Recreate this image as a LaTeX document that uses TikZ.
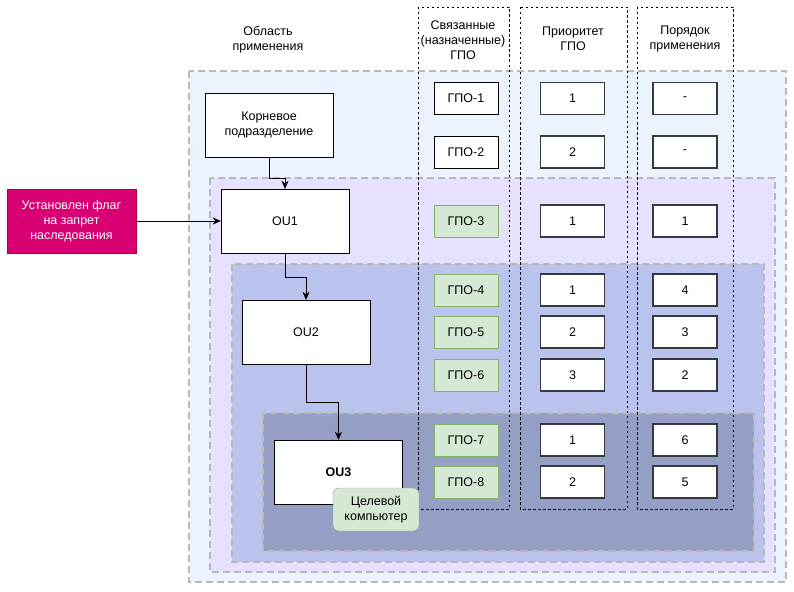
\documentclass[tikz,border=0pt]{standalone}
\usepackage{fontspec}
\setmainfont{Liberation Sans}
\usetikzlibrary{positioning,arrows.meta}
\definecolor{areaA}{HTML}{EBF4FE}
\definecolor{areaB}{HTML}{E5E1FE}
\definecolor{areaC}{HTML}{BAC3EE}
\definecolor{areaD}{HTML}{959EC4}
\definecolor{flagred}{HTML}{D80073}
\definecolor{flagborder}{HTML}{A50040}
\definecolor{gpogreen}{HTML}{D5E8D4}
\definecolor{gpoborder}{HTML}{82B366}
\definecolor{valborder}{HTML}{36393D}
\tikzset{
  area/.style={draw=gray!55, line width=1.5pt, dash pattern=on 7pt off 4pt},
  column/.style={draw=black, line width=0.8pt, dash pattern=on 2.5pt off 2.5pt},
  unit/.style={draw=black, fill=white, minimum width=128pt, minimum height=64pt, inner sep=0pt, align=center},
  gpo/.style={draw=gpoborder, fill=gpogreen, minimum width=64pt, minimum height=32pt, inner sep=0pt},
  gpoplain/.style={draw=black, fill=white, minimum width=64pt, minimum height=32pt, inner sep=0pt},
  val/.style={draw=valborder, fill=white, line width=1.3pt, minimum width=64pt, minimum height=32pt, inner sep=0pt},
  head/.style={align=center},
  link/.style={->, >={Stealth[length=8pt, width=7pt, inset=2.5pt]}},
}
\begin{document}
\begin{tikzpicture}[x=1pt, y=-1pt, font=\fontsize{12.5}{15}\selectfont]
\useasboundingbox (0,0) rectangle (794,591);

% Nested scopes of application
\draw [area, fill=areaA] (189,71) rectangle (786,582);
\draw [area, fill=areaB] (210,178) rectangle (775,572);
\draw [area, fill=areaC] (232,264) rectangle (764,562);
\draw [area, fill=areaD] (263,413) rectangle (754,551);

% Columns
\draw [column] (418,7) rectangle (509,509);
\draw [column] (520,7) rectangle (627,509);
\draw [column] (637,7) rectangle (733,509);

\node [head] (hscope) at (268,40) {Область\\применения};
\node [head] (hlinked) at (463,40) {Связанные\\(назначенные)\\ГПО};
\node [head] (hprio) at (573,39) {Приоритет\\ГПО};
\node [head] (horder) at (685,39) {Порядок\\применения};

% Organizational units
\node [unit] (root) at (269,125) {Корневое\\подразделение};
\node [unit] (ou1) at (285,221) {OU1};
\node [unit] (ou2) at (306,332) {OU2};
\node [unit] (ou3) at (338.5,472) {\bfseries OU3};

\node [draw=flagborder, fill=flagred, text=white, minimum width=129pt, minimum height=64pt, inner sep=0pt, align=center] (flag) at (71.5,221) {Установлен флаг\\на запрет\\наследования};

\node [gpo, rounded corners=6pt, minimum width=86pt, minimum height=43pt, align=center] (target) at (376,509.5) {Целевой\\компьютер};

% GPO, priority, order
\node [gpoplain] (g1) at (466,98.5) {ГПО-1};
\node [gpoplain] (g2) at (466,152) {ГПО-2};
\node [gpo] (g3) at (466,221) {ГПО-3};
\node [gpo] (g4) at (466,290) {ГПО-4};
\node [gpo] (g5) at (466,332) {ГПО-5};
\node [gpo] (g6) at (466,375) {ГПО-6};
\node [gpo] (g7) at (466,440) {ГПО-7};
\node [gpo] (g8) at (466,482) {ГПО-8};

\node [val] (p1) at (572.5,98.5) {1};
\node [val] (p2) at (572.5,152) {2};
\node [val] (p3) at (572.5,221) {1};
\node [val] (p4) at (572.5,290) {1};
\node [val] (p5) at (572.5,332) {2};
\node [val] (p6) at (572.5,375) {3};
\node [val] (p7) at (572.5,440) {1};
\node [val] (p8) at (572.5,482) {2};

\node [val] (o1) at (685,98.5) {-};
\node [val] (o2) at (685,152) {-};
\node [val] (o3) at (685,221) {1};
\node [val] (o4) at (685,290) {4};
\node [val] (o5) at (685,332) {3};
\node [val] (o6) at (685,375) {2};
\node [val] (o7) at (685,440) {6};
\node [val] (o8) at (685,482) {5};

% Inheritance links
\draw [link] (root.south) -- ++(0,21) -| (ou1.north);
\draw [link] (ou1.south) -- ++(0,24) -| (ou2.north);
\draw [link] (ou2.south) -- ++(0,38) -| (ou3.north);
\draw [link] (flag.east) -- (ou1.west);

\end{tikzpicture}
\end{document}
